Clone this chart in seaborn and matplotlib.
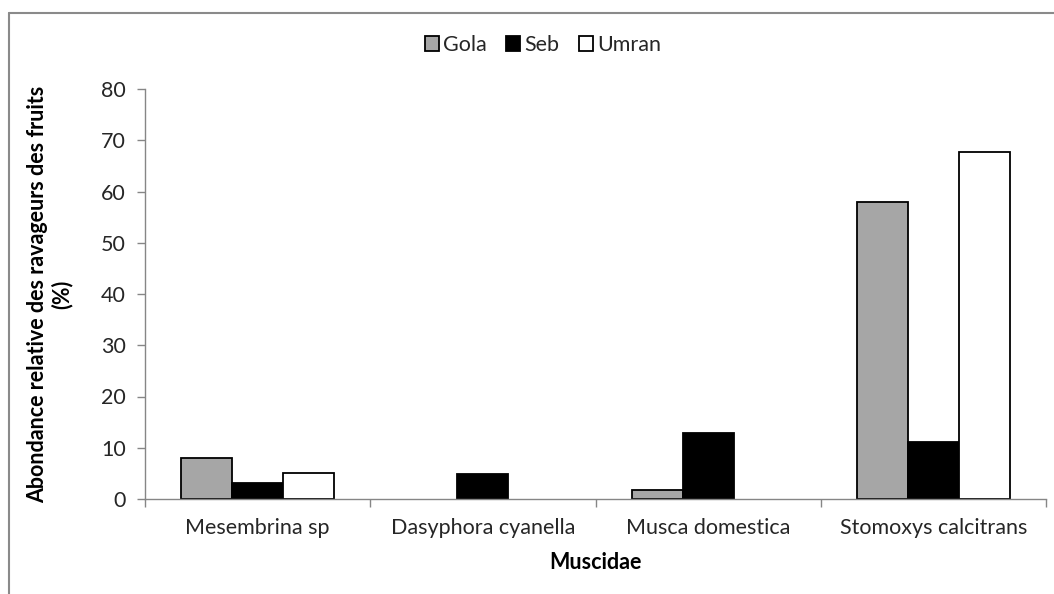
import matplotlib
matplotlib.use("Agg")
import matplotlib.pyplot as plt
from matplotlib.lines import Line2D
from matplotlib.patches import Patch
import seaborn as sns
import pandas as pd

categories = ["Mesembrina sp", "Dasyphora cyanella", "Musca domestica", "Stomoxys calcitrans"]
sites = ["Gola", "Seb", "Umran"]
gola = [8.0, 0.0, 1.7, 58.0]
seb = [3.2, 4.9, 12.8, 11.2]
umran = [5.0, 0.0, 0.0, 67.8]
colors = {"Gola": "#a6a6a6", "Seb": "#000000", "Umran": "#ffffff"}

rows = []
for s, vals in zip(sites, [gola, seb, umran]):
    for c, v in zip(categories, vals):
        rows.append({"cat": c, "site": s, "val": v})
df = pd.DataFrame(rows)

sns.set_theme(style="white")
plt.rcParams["font.family"] = ["Lato", "DejaVu Sans"]

FS = 15.5
fig = plt.figure(figsize=(10.54, 5.94), dpi=100)
ax = fig.add_axes([145/1054, 1-499/594, (1046-145)/1054, (499-89)/594])

sns.barplot(data=df, x="cat", y="val", hue="site", order=categories, hue_order=sites,
            palette=colors, width=0.68, edgecolor="black", linewidth=1.3,
            errorbar=None, ax=ax, legend=False)
for p in ax.patches:
    if p.get_height() == 0:
        p.set_linewidth(0)

ax.set_ylim(0, 80)
ax.set_xlim(-0.5, 3.5)
ax.set_yticks(range(0, 81, 10))
ax.set_xticks(range(4))
ax.set_xticklabels(categories)
ax.set_xticks([-0.5, 0.5, 1.5, 2.5, 3.5], minor=True)
gray = "#868686"
ax.tick_params(axis="x", which="major", length=0, pad=14, labelsize=FS, colors="#262626")
ax.tick_params(axis="x", which="minor", length=6, width=1, color=gray, direction="out", bottom=True)
ax.tick_params(axis="y", length=6, width=1, color=gray, direction="out", left=True, pad=8,
               labelsize=FS, labelcolor="#262626")
for sp in ["top", "right"]:
    ax.spines[sp].set_visible(False)
for sp in ["left", "bottom"]:
    ax.spines[sp].set_color(gray)
    ax.spines[sp].set_linewidth(1)

ax.set_xlabel("Muscidae", fontsize=FS, fontweight="bold", labelpad=10, color="black")
ax.set_ylabel("Abondance relative des ravageurs des fruits\n(%)", fontsize=FS,
              fontweight="bold", labelpad=20, color="black", linespacing=1.15)

handles = [Patch(facecolor=colors[s], edgecolor="black", linewidth=1.3) for s in sites]
fig.legend(handles, sites, loc="center", bbox_to_anchor=(0.515, 0.924), ncol=3,
           frameon=False, fontsize=FS, handlelength=0.65, handleheight=0.65,
           handletextpad=0.2, columnspacing=0.9)

# outer chart frame (clipped at right/bottom)
fig.add_artist(Line2D([9/1054, 1.0], [1-13/594, 1-13/594], transform=fig.transFigure,
                      color="#8a8a8a", lw=1.5))
fig.add_artist(Line2D([9/1054, 9/1054], [1-13/594, 0.0], transform=fig.transFigure,
                      color="#8a8a8a", lw=1.5))

fig.savefig("out.png", dpi=100, facecolor="white")
